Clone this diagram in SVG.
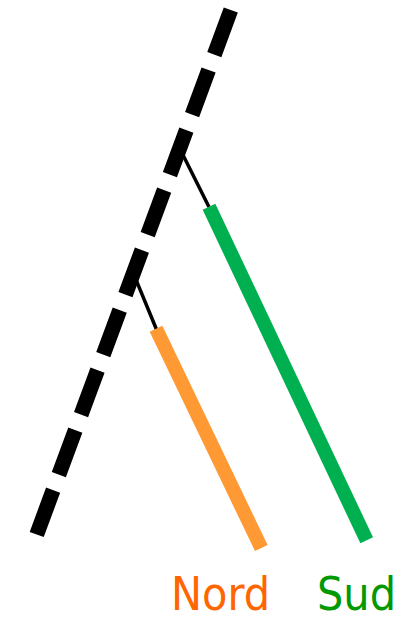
<svg xmlns="http://www.w3.org/2000/svg" width="412" height="621" viewBox="0 0 412 621">
<style>
.trunk{stroke:#000;stroke-width:15;stroke-dasharray:47.5 16.5;fill:none;stroke-linecap:butt}
.thin{stroke:#000;stroke-width:3.5;fill:none}
.lbl{font-family:"DejaVu Sans Condensed","Liberation Sans",sans-serif;font-size:46px}
</style>
<rect width="412" height="621" fill="#fff"/>
<g id="connectors">
<line class="trunk" x1="230.8" y1="10" x2="36.7" y2="534.5"/>
<line class="thin" x1="179.6" y1="148.3" x2="209" y2="207"/>
<line class="thin" x1="133.4" y1="273.3" x2="156.5" y2="329.5"/>
</g>
<g id="sud-branch">
<line x1="209" y1="206.7" x2="366.7" y2="540.3" stroke="#00B050" stroke-width="14"/>
</g>
<g id="nord-branch">
<line x1="156" y1="328.8" x2="261.3" y2="548" stroke="#FF9933" stroke-width="14"/>
</g>
<g id="nord-label"><text class="lbl" x="171" y="610" fill="#FF6600" textLength="99" lengthAdjust="spacingAndGlyphs">Nord</text></g>
<g id="sud-label"><text class="lbl" x="317" y="610" fill="#009900" textLength="79" lengthAdjust="spacingAndGlyphs">Sud</text></g>
</svg>
